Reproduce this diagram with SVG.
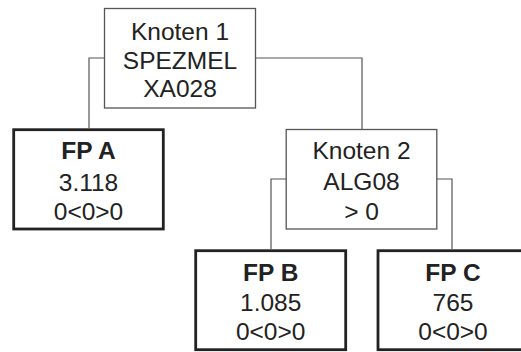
<svg xmlns="http://www.w3.org/2000/svg" width="521" height="352" viewBox="0 0 521 352">
<style>
.thin{fill:#fff;stroke:#555;stroke-width:1.3}
.thick{fill:#fff;stroke:#222;stroke-width:2.8}
.conn{fill:none;stroke:#555;stroke-width:1.2}
text{font-family:"Liberation Sans",Arial,sans-serif;font-size:24.5px;fill:#222;text-anchor:middle}
.b{font-weight:bold}
</style>
<rect width="521" height="352" fill="#fff"/>
<g id="connectors">
<polyline class="conn" points="104,58 89,58 89,128"/>
<polyline class="conn" points="256,58 362,58 362,129"/>
<polyline class="conn" points="286,179 271,179 271,249"/>
<polyline class="conn" points="437,179 452,179 452,249"/>
</g>
<g id="knoten1">
<rect class="thin" x="104.5" y="8.5" width="151" height="99.5"/>
<text x="180" y="40">Knoten 1</text>
<text x="180" y="68.5">SPEZMEL</text>
<text x="180" y="97">XA028</text>
</g>
<g id="fpA">
<rect class="thick" x="13.7" y="129.7" width="149.6" height="99.3"/>
<text class="b" x="88.5" y="159.3">FP A</text>
<text x="88.5" y="190.5">3.118</text>
<text x="88.5" y="220">0&lt;0&gt;0</text>
</g>
<g id="knoten2">
<rect class="thin" x="286.2" y="129.5" width="150.6" height="99.5"/>
<text x="361.5" y="159">Knoten 2</text>
<text x="361.5" y="190">ALG08</text>
<text x="361.5" y="220">&gt; 0</text>
</g>
<g id="fpB">
<rect class="thick" x="195.7" y="250.7" width="150" height="99"/>
<text class="b" x="270.7" y="281">FP B</text>
<text x="270.7" y="310.7">1.085</text>
<text x="270.7" y="340">0&lt;0&gt;0</text>
</g>
<g id="fpC">
<rect class="thick" x="378" y="250.7" width="150" height="99"/>
<text class="b" x="453" y="281">FP C</text>
<text x="453" y="310.7">765</text>
<text x="453" y="340">0&lt;0&gt;0</text>
</g>
</svg>
